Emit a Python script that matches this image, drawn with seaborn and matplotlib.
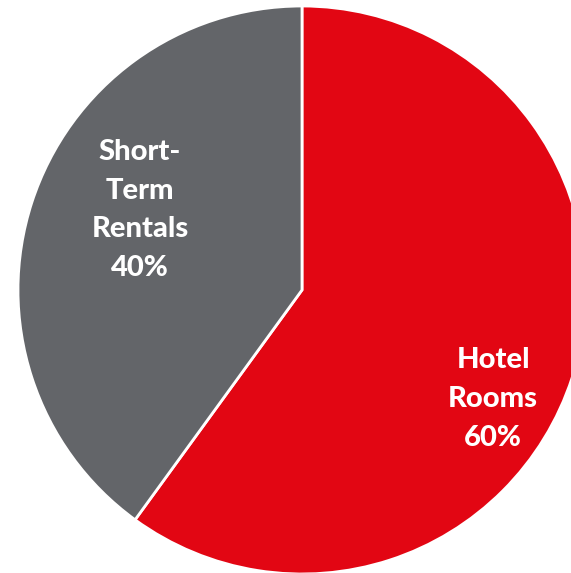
import matplotlib
matplotlib.use("Agg")
import matplotlib.pyplot as plt
import seaborn as sns

categories = ["Hotel\nRooms", "Short-\nTerm\nRentals"]
shares = [60, 40]
colors = ["#E20613", "#636569"]

sns.set_theme(style="white")
plt.rcParams["font.family"] = ["Lato", "DejaVu Sans"]

W, H = 571, 573
fig = plt.figure(figsize=(W / 100, H / 100), dpi=100)
ax = fig.add_axes([0, 0, 1, 1])

wedges, _ = ax.pie(
    shares,
    colors=colors,
    startangle=90,
    counterclock=False,
    radius=1.0,
    wedgeprops=dict(edgecolor="white", linewidth=2.0),
)

# pie centre sits left of middle, the right edge runs off the canvas
r_px, cx, cy = 284.0, 302.0, 290.0
ax.set_aspect("auto")
ax.set_xlim(-cx / r_px, (W - cx) / r_px)
ax.set_ylim(-(H - cy) / r_px, cy / r_px)
ax.axis("off")

label_pos = [(0.673, -0.384), (-0.570, 0.282)]
for name, val, (x, y) in zip(categories, shares, label_pos):
    ax.text(x, y, f"{name}\n{val}%", ha="center", va="center",
            color="white", fontsize=21, fontweight="black", linespacing=1.6)

fig.savefig("out.png", dpi=100)
